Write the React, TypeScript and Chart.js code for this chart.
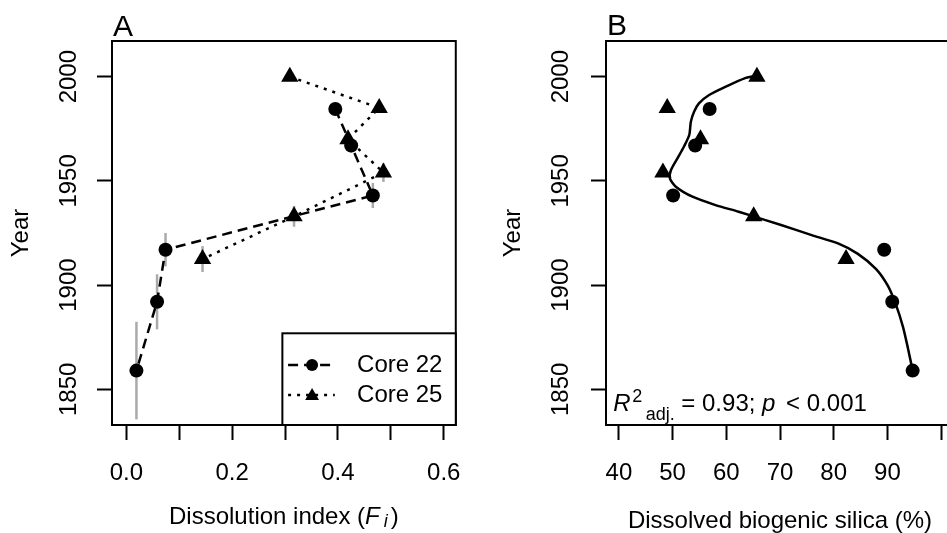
import { useEffect, useRef } from 'react';
import { Chart, registerables } from 'chart.js';

Chart.register(...registerables);

const FONT = "'Liberation Sans', Arial, Helvetica, sans-serif";

// ---------- shared axis ----------
const yearMin = 1832.9;
const yearMax = 2017.1;
const yearTicks = [1850, 1900, 1950, 2000];
const yearTickLabels = ['1850', '1900', '1950', '2000'];

// ---------- panel A ----------
const fiTicks = [0, 0.1, 0.2, 0.3, 0.4, 0.5, 0.6];
const fiTickLabels = ['0.0', '', '0.2', '', '0.4', '', '0.6'];
const fiMin = -0.0272;
const fiMax = 0.6228;

const seriesNames = ['Core 22', 'Core 25'];

const core22Years = [1984.5, 1967, 1943, 1917, 1892, 1859];
const core22Fi = [0.395, 0.425, 0.466, 0.074, 0.058, 0.019];
const core22FiErr = [2.5, 3.5, 6, 8, 13.2, 23.4];

const core25Years = [2000, 1985, 1970, 1954, 1933, 1912.5];
const core25Fi = [0.309, 0.478, 0.419, 0.486, 0.317, 0.144];
const core25FiErr = [1.5, 2, 2.5, 4.5, 5, 6.2];

// ---------- panel B ----------
const silicaTicks = [40, 50, 60, 70, 80, 90, 100];
const silicaTickLabels = ['40', '50', '60', '70', '80', '90', ''];
const silicaMin = 37.6;
const silicaMax = 102.4;

const core22Silica = [56.9, 54.2, 50.1, 89.4, 90.9, 94.7];
const core25Silica = [65.7, 49.0, 55.2, 48.2, 65.1, 82.3];

const fitYears = [2000.3, 1999.2, 1995.2, 1991.2, 1987.2, 1983.2, 1978.4, 1972, 1966.4, 1960.8, 1955.2, 1951.2, 1947.2, 1942.4, 1938.4, 1935.2, 1931.2, 1926.4, 1924, 1920, 1915, 1907.7, 1899.6, 1890.5, 1880, 1870, 1859];
const fitSilica = [65.4, 63.4, 59.9, 56.8, 54.9, 54.0, 53.4, 53.1, 52.1, 50.9, 49.7, 49.5, 50.6, 53.7, 58.0, 62.3, 67.3, 73.1, 75.9, 80.8, 84.5, 87.9, 90.1, 91.6, 92.9, 93.8, 94.7];

const r2Text = { base: 'R', sup: '2', sub: 'adj.', mid: ' = 0.93; ', p: 'p', end: ' < 0.001' };

// ---------- helpers ----------
const pts = (xs: number[], ys: number[]) => xs.map((v, i) => ({ x: v, y: ys[i] }));

function drawBox(chart: any) {
  const { ctx, chartArea: a } = chart;
  ctx.save();
  ctx.strokeStyle = '#000';
  ctx.lineWidth = 2;
  ctx.strokeRect(a.left, a.top, a.right - a.left, a.bottom - a.top);
  ctx.restore();
}

function drawTriangle(ctx: CanvasRenderingContext2D, cx: number, cy: number, r: number) {
  ctx.beginPath();
  ctx.moveTo(cx, cy - r);
  ctx.lineTo(cx + r * 0.866, cy + r / 2);
  ctx.lineTo(cx - r * 0.866, cy + r / 2);
  ctx.closePath();
  ctx.fill();
}

function yearScale(title: string, titlePad: number, labelPad: number) {
  return {
    type: 'linear',
    position: 'left',
    min: yearMin,
    max: yearMax,
    afterBuildTicks: (s: any) => {
      s.ticks = yearTicks.map((v) => ({ value: v }));
    },
    afterFit: (s: any) => {
      s.width = 112;
    },
    grid: { drawOnChartArea: false, drawTicks: true, tickLength: 15, tickWidth: 2, tickColor: '#000' },
    border: { display: false },
    ticks: {
      font: { family: FONT, size: 24 },
      color: '#000',
      minRotation: 90,
      maxRotation: 90,
      crossAlign: 'center',
      padding: labelPad,
      autoSkip: false,
      callback: (_v: any, i: number) => yearTickLabels[i],
    },
    title: {
      display: true,
      text: title,
      font: { family: FONT, size: 24 },
      color: '#000',
      padding: { top: titlePad, bottom: 0 },
    },
  };
}

function xScale(min: number, max: number, ticks: number[], labels: string[], title?: string) {
  return {
    type: 'linear',
    position: 'bottom',
    min,
    max,
    afterBuildTicks: (s: any) => {
      s.ticks = ticks.map((v) => ({ value: v }));
    },
    afterFit: (s: any) => {
      s.height = 108;
    },
    grid: { drawOnChartArea: false, drawTicks: true, tickLength: 15, tickWidth: 2, tickColor: '#000' },
    border: { display: false },
    ticks: {
      font: { family: FONT, size: 24 },
      color: '#000',
      minRotation: 0,
      maxRotation: 0,
      padding: 19,
      autoSkip: false,
      callback: (_v: any, i: number) => labels[i],
    },
    title: title
      ? { display: true, text: title, font: { family: FONT, size: 24, lineHeight: 1 }, color: '#000', padding: 0 }
      : { display: false },
  };
}

const panelAPlugin = {
  id: 'panelA',
  beforeDatasetsDraw(chart: any) {
    const { ctx, scales } = chart;
    const x = scales.x;
    const y = scales.y;
    ctx.save();
    ctx.strokeStyle = '#aaaaaa';
    ctx.lineWidth = 2.5;
    const drawErr = (xs: number[], ys: number[], es: number[]) => {
      xs.forEach((v, i) => {
        const px = x.getPixelForValue(v);
        ctx.beginPath();
        ctx.moveTo(px, y.getPixelForValue(ys[i] - es[i]));
        ctx.lineTo(px, y.getPixelForValue(ys[i] + es[i]));
        ctx.stroke();
      });
    };
    drawErr(core22Fi, core22Years, core22FiErr);
    drawErr(core25Fi, core25Years, core25FiErr);
    ctx.restore();
  },
  afterDraw(chart: any) {
    const { ctx, chartArea: a } = chart;
    drawBox(chart);
    ctx.save();
    // panel letter
    ctx.fillStyle = '#000';
    ctx.font = `30px ${FONT}`;
    ctx.textAlign = 'left';
    ctx.textBaseline = 'alphabetic';
    ctx.fillText('A', a.left + 1, a.top - 5);

    // legend
    const lx = a.right - 173.4;
    const ly = a.bottom - 91.7;
    ctx.fillStyle = '#fff';
    ctx.fillRect(lx, ly, a.right - lx, a.bottom - ly);
    ctx.strokeStyle = '#000';
    ctx.lineWidth = 2;
    ctx.strokeRect(lx, ly, a.right - lx, a.bottom - ly);
    const rows = [a.bottom - 60, a.bottom - 30];
    const dashes = [[10, 6], [3, 6]];
    rows.forEach((ry, i) => {
      ctx.save();
      ctx.setLineDash(dashes[i]);
      ctx.lineWidth = 2.5;
      ctx.beginPath();
      ctx.moveTo(lx + 5.7, ry);
      ctx.lineTo(lx + 52.4, ry);
      ctx.stroke();
      ctx.restore();
      ctx.fillStyle = '#000';
      if (i === 0) {
        ctx.beginPath();
        ctx.arc(lx + 29.7, ry, 6, 0, Math.PI * 2);
        ctx.fill();
      } else {
        drawTriangle(ctx, lx + 29.7, ry + 1, 8);
      }
      ctx.font = `24px ${FONT}`;
      ctx.textBaseline = 'middle';
      ctx.textAlign = 'left';
      ctx.fillText(seriesNames[i], lx + 74.7, ry);
    });

    // x-axis title with italic F and subscript i
    const parts = [
      { t: 'Dissolution index (', f: `24px ${FONT}`, dy: 0, gap: 0 },
      { t: 'F', f: `italic 24px ${FONT}`, dy: 0, gap: 0 },
      { t: 'i', f: `italic 18px ${FONT}`, dy: 3, gap: 4 },
      { t: ')', f: `24px ${FONT}`, dy: 0, gap: 3 },
    ];
    let total = 0;
    const widths = parts.map((p) => {
      ctx.font = p.f;
      const w = ctx.measureText(p.t).width;
      total += w + p.gap;
      return w;
    });
    let cx = (a.left + a.right) / 2 - total / 2;
    ctx.textBaseline = 'alphabetic';
    ctx.fillStyle = '#000';
    parts.forEach((p, i) => {
      cx += p.gap;
      ctx.font = p.f;
      ctx.fillText(p.t, cx, 523.5 + p.dy);
      cx += widths[i];
    });
    ctx.restore();
  },
};

const panelBPlugin = {
  id: 'panelB',
  afterDraw(chart: any) {
    const { ctx, chartArea: a } = chart;
    drawBox(chart);
    ctx.save();
    ctx.fillStyle = '#000';
    ctx.font = `30px ${FONT}`;
    ctx.textAlign = 'left';
    ctx.textBaseline = 'alphabetic';
    ctx.fillText('B', a.left + 1, a.top - 6);

    // R^2 adj annotation
    const base = a.bottom - 14.3;
    let x = a.left + 7.3;
    ctx.font = `italic 24px ${FONT}`;
    ctx.fillText(r2Text.base, x, base);
    x += ctx.measureText(r2Text.base).width + 1.5;
    ctx.font = `18px ${FONT}`;
    ctx.fillText(r2Text.sup, x, base - 9);
    x += ctx.measureText(r2Text.sup).width + 3.5;
    ctx.fillText(r2Text.sub, x, base + 9.5);
    x += ctx.measureText(r2Text.sub).width;
    ctx.font = `24px ${FONT}`;
    ctx.fillText(r2Text.mid, x, base);
    x += ctx.measureText(r2Text.mid).width;
    ctx.font = `italic 24px ${FONT}`;
    ctx.fillText(r2Text.p, x, base);
    x += ctx.measureText(r2Text.p).width + 4;
    ctx.font = `24px ${FONT}`;
    ctx.fillText(r2Text.end, x, base);
    ctx.restore();
  },
};

export default function App() {
  const refA = useRef<HTMLCanvasElement | null>(null);
  const refB = useRef<HTMLCanvasElement | null>(null);

  useEffect(() => {
    Chart.defaults.font.family = FONT;
    const common = {
      animation: false,
      responsive: false,
      devicePixelRatio: 1,
      events: [],
      plugins: { legend: { display: false }, tooltip: { enabled: false }, title: { display: false } },
    };

    const chartA = new Chart(refA.current as HTMLCanvasElement, {
      type: 'scatter',
      data: {
        datasets: [
          {
            label: seriesNames[0],
            data: pts(core22Fi, core22Years),
            showLine: true,
            borderColor: '#000',
            borderWidth: 2.5,
            borderDash: [10, 6],
            pointStyle: 'circle',
            pointRadius: 7,
            pointHoverRadius: 7,
            pointBackgroundColor: '#000',
            pointBorderColor: '#000',
            pointBorderWidth: 0,
          },
          {
            label: seriesNames[1],
            data: pts(core25Fi, core25Years),
            showLine: true,
            borderColor: '#000',
            borderWidth: 2.5,
            borderDash: [3, 6],
            pointStyle: 'triangle',
            pointRadius: 10,
            pointHoverRadius: 10,
            pointBackgroundColor: '#000',
            pointBorderColor: '#000',
            pointBorderWidth: 0,
          },
        ],
      },
      options: {
        ...common,
        layout: { padding: { left: 0, right: 17, top: 41, bottom: 0 } },
        scales: {
          x: xScale(fiMin, fiMax, fiTicks, fiTickLabels),
          y: yearScale('Year', 7.3, 1),
        },
      } as any,
      plugins: [panelAPlugin],
    } as any);

    const chartB = new Chart(refB.current as HTMLCanvasElement, {
      type: 'scatter',
      data: {
        datasets: [
          {
            label: 'fit',
            data: pts(fitSilica, fitYears),
            showLine: true,
            borderColor: '#000',
            borderWidth: 2.5,
            tension: 0.25,
            pointRadius: 0,
            pointHoverRadius: 0,
          },
          {
            label: seriesNames[0],
            data: pts(core22Silica, core22Years),
            showLine: false,
            pointStyle: 'circle',
            pointRadius: 7,
            pointHoverRadius: 7,
            pointBackgroundColor: '#000',
            pointBorderColor: '#000',
            pointBorderWidth: 0,
          },
          {
            label: seriesNames[1],
            data: pts(core25Silica, core25Years),
            showLine: false,
            pointStyle: 'triangle',
            pointRadius: 10,
            pointHoverRadius: 10,
            pointBackgroundColor: '#000',
            pointBorderColor: '#000',
            pointBorderWidth: 0,
          },
        ],
      },
      options: {
        ...common,
        layout: { padding: { left: 0, right: 8, top: 41, bottom: 0 } },
        scales: {
          x: xScale(silicaMin, silicaMax, silicaTicks, silicaTickLabels, 'Dissolved biogenic silica (%)'),
          y: yearScale('Year', 4.6, 2.6),
        },
      } as any,
      plugins: [panelBPlugin],
    } as any);

    return () => {
      chartA.destroy();
      chartB.destroy();
    };
  }, []);

  return (
    <div
      style={{
        position: 'fixed',
        left: 0,
        top: 0,
        width: 947,
        height: 533,
        overflow: 'hidden',
        background: '#fff',
      }}
    >
      <canvas
        ref={refA}
        width={480}
        height={533}
        style={{ position: 'absolute', left: 0, top: 0, width: 480, height: 533 }}
      />
      <canvas
        ref={refB}
        width={470}
        height={533}
        style={{ position: 'absolute', left: 494, top: 0, width: 470, height: 533 }}
      />
    </div>
  );
}
